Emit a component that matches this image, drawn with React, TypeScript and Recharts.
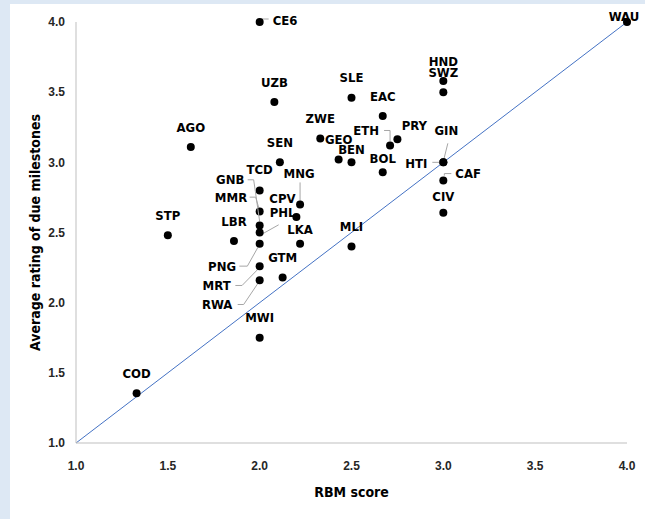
import React from 'react';
import { ScatterChart, Scatter, XAxis, YAxis, ReferenceLine, Label } from 'recharts';

// country / unit codes with their RBM score and average milestone rating
const codes = [
  'CE6', 'UZB', 'AGO', 'STP', 'COD', 'SLE', 'EAC', 'ZWE', 'GEO', 'BEN',
  'ETH', 'PRY', 'BOL', 'HND', 'SWZ', 'GIN', 'HTI', 'CAF', 'CIV', 'WAU',
  'SEN', 'TCD', 'MMR', 'GNB', 'PHL', 'LBR', 'PNG', 'MRT', 'RWA', 'GTM',
  'MWI', 'MNG', 'CPV', 'LKA', 'MLI',
];
const rbmScore = [
  2.0, 2.08, 1.625, 1.5, 1.33, 2.5, 2.67, 2.33, 2.43, 2.5,
  2.71, 2.75, 2.67, 3.0, 3.0, 3.0, 3.0, 3.0, 3.0, 4.0,
  2.11, 2.0, 2.0, 2.0, 2.0, 1.86, 2.0, 2.0, 2.0, 2.125,
  2.0, 2.22, 2.2, 2.22, 2.5,
];
const avgRating = [
  4.0, 3.43, 3.11, 2.48, 1.355, 3.46, 3.33, 3.17, 3.02, 3.0,
  3.12, 3.165, 2.93, 3.58, 3.5, 3.0, 3.0, 2.87, 2.64, 4.0,
  3.0, 2.8, 2.65, 2.55, 2.5, 2.44, 2.42, 2.26, 2.16, 2.18,
  1.75, 2.7, 2.61, 2.42, 2.4,
];
const ticks = [1.0, 1.5, 2.0, 2.5, 3.0, 3.5, 4.0];

const data = codes.map((code, i) => ({ code, x: rbmScore[i], y: avgRating[i] }));

// label offsets (px from the dot); default is centred above the dot
type Placement = { dx: number; dy: number; anchor?: 'start' | 'middle' | 'end'; leader?: number[][] };
const placement: Record<string, Placement> = {
  CE6: { dx: 13, dy: -2, anchor: 'start', leader: [[2, -3], [9, -3]] },
  WAU: { dx: -3, dy: -6 },
  BEN: { dx: 0, dy: -13 },
  ETH: { dx: -11, dy: -15, anchor: 'end', leader: [[-6, -15], [0, -15], [0, -4]] },
  PRY: { dx: 17, dy: -14 },
  BOL: { dx: 0, dy: -14 },
  GIN: { dx: 3, dy: -32, leader: [[4.5, -19], [0.5, -3]] },
  HTI: { dx: -16, dy: 0.5, anchor: 'end', leader: [[-11, 0], [-2, 0]] },
  CAF: { dx: 12, dy: -7, anchor: 'start', leader: [[1, -5], [1, -7], [8, -7]] },
  CIV: { dx: 0, dy: -17 },
  TCD: { dx: 0, dy: -21 },
  MMR: { dx: -12.5, dy: -14.3, anchor: 'end', leader: [[-10, -14.3], [-4, -14.3], [-1, -4]] },
  GNB: { dx: -15.3, dy: -45.7, anchor: 'end', leader: [[-12, -45.7], [-6, -45.7], [0, -4]] },
  PHL: { dx: 10, dy: -20, anchor: 'start', leader: [[19, -7.7], [2.4, 1.6]] },
  PNG: { dx: -23.6, dy: 22.4, anchor: 'end', leader: [[-20.3, 22.4], [-12.3, 22.4], [-1.8, 3.7]] },
  MRT: { dx: -29, dy: 19.3, anchor: 'end', leader: [[-24.3, 19.3], [-17.6, 19.3], [-1, 2.3]] },
  RWA: { dx: -27.3, dy: 24.3, anchor: 'end', leader: [[-22, 24.3], [-16, 24.3], [-1, 2]] },
  MNG: { dx: -1, dy: -31, leader: [[0, -22], [0, -2]] },
  CPV: { dx: -14, dy: -19 },
  LKA: { dx: 0, dy: -14 },
};

const labelFont = "'Liberation Sans Narrow', 'DejaVu Sans Condensed', sans-serif";

function Dot(props: any) {
  const { cx, cy, payload } = props;
  const p = placement[payload.code] ?? { dx: 0, dy: -20 };
  return (
    <g>
      {p.leader && (
        <polyline
          points={p.leader.map(([a, b]) => `${cx + a},${cy + b}`).join(' ')}
          fill="none"
          stroke="#a6a6a6"
          strokeWidth={1}
        />
      )}
      <circle cx={cx} cy={cy} r={4} fill="#000" />
      <text
        x={cx + p.dx}
        y={cy + p.dy}
        dy="0.36em"
        textAnchor={p.anchor ?? 'middle'}
        fontFamily={labelFont}
        fontWeight="bold"
        fontSize={13}
        fill="#000"
      >
        {payload.code}
      </text>
    </g>
  );
}

const tickStyle = { fontFamily: 'Liberation Sans, Arial, sans-serif', fontWeight: 'bold', fontSize: 12, fill: '#262626' };

export default function App() {
  return (
    <div style={{ position: 'absolute', left: 0, top: 0, width: 645, height: 519, background: '#dde8f4' }}>
      <div style={{ position: 'absolute', left: 10, top: 4, width: 635, height: 515, background: '#fff' }} />
      <div style={{ position: 'absolute', left: 0, top: 0 }}>
        <ScatterChart width={645} height={519} margin={{ top: 22, right: 18, bottom: 26, left: 16 }}>
          <XAxis
            type="number"
            dataKey="x"
            domain={[1, 4]}
            ticks={ticks}
            tickFormatter={(v: number) => v.toFixed(1)}
            tick={tickStyle}
            tickSize={0}
            tickMargin={18}
            height={50}
            stroke="#bfbfbf"
          >
            <Label
              content={({ viewBox }: any) => (
                <text
                  x={viewBox.x + viewBox.width / 2}
                  y={viewBox.y + 54}
                  textAnchor="middle"
                  fontFamily={labelFont}
                  fontWeight="bold"
                  fontSize={14}
                  fill="#000"
                >
                  RBM score
                </text>
              )}
            />
          </XAxis>
          <YAxis
            type="number"
            dataKey="y"
            domain={[1, 4]}
            ticks={ticks}
            tickFormatter={(v: number) => v.toFixed(1)}
            tick={tickStyle}
            tickSize={0}
            tickMargin={11}
            width={60}
            stroke="#bfbfbf"
          >
            <Label
              content={({ viewBox }: any) => {
                const x = viewBox.x + 24;
                const y = viewBox.y + viewBox.height / 2;
                return (
                  <text
                    x={x}
                    y={y}
                    transform={`rotate(-90 ${x} ${y})`}
                    textAnchor="middle"
                    fontFamily={labelFont}
                    fontWeight="bold"
                    fontSize={14}
                    fill="#000"
                  >
                    Average rating of due milestones
                  </text>
                );
              }}
            />
          </YAxis>
          <ReferenceLine
            segment={[{ x: 1, y: 1 }, { x: 4, y: 4 }]}
            stroke="#4472c4"
            strokeWidth={1}
          />
          <Scatter data={data} shape={Dot} isAnimationActive={false} />
        </ScatterChart>
      </div>
    </div>
  );
}
